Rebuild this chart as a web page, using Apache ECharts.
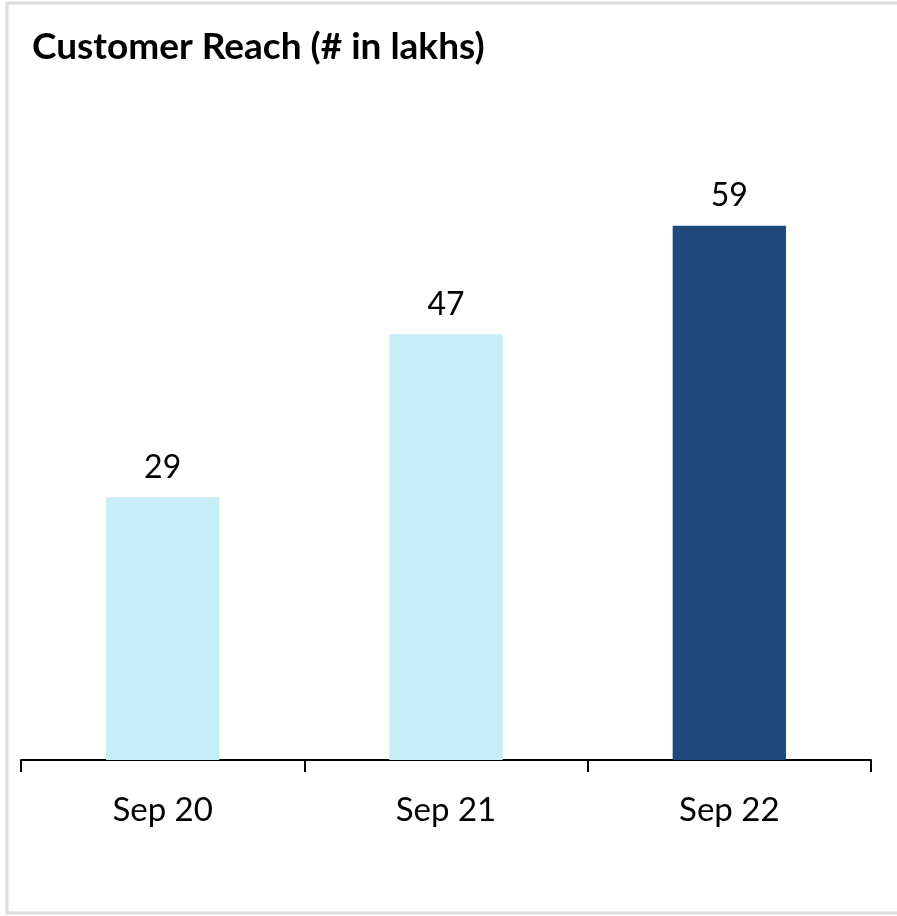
<!DOCTYPE html>
<html>
<head>
<meta charset="utf-8">
<style>
  html, body { margin: 0; padding: 0; background: #fff; }
  #chart { width: 897px; height: 916px; }
</style>
<script src="https://cdn.jsdelivr.net/npm/echarts@6/dist/echarts.min.js"></script>
</head>
<body>
<div id="chart"></div>
<script>
// data
const categories = ['Sep 20', 'Sep 21', 'Sep 22']
const reach = [29, 47, 59]
const barColors = ['#c7eef6', '#c7eef6', '#1f4a7c']

const chart = echarts.init(document.getElementById('chart'))

chart.setOption({
  animation: false,
  title: {
    text: 'Customer Reach (# in lakhs)',
    left: 32,
    top: 29,
    padding: 0,
    textStyle: {
      fontFamily: 'Lato',
      fontSize: 37,
      fontWeight: 'bold',
      color: '#000'
    }
  },
  graphic: [{
    type: 'rect',
    shape: { x: 7, y: 3, width: 900, height: 910 },
    style: { fill: 'none', stroke: '#dcdcdc', lineWidth: 3 },
    silent: true
  }],
  grid: {
    left: 21,
    right: 26,
    top: 126,
    bottom: 156
  },
  xAxis: {
    type: 'category',
    data: categories,
    axisLine: { lineStyle: { color: '#000', width: 2 } },
    axisTick: { show: true, length: 12, lineStyle: { color: '#000', width: 2 } },
    axisLabel: {
      margin: 34,
      color: '#000',
      fontFamily: 'Lato',
      fontSize: 33
    }
  },
  yAxis: {
    type: 'value',
    min: 0,
    max: 70,
    show: false,
    splitLine: { show: false }
  },
  series: [{
    type: 'bar',
    barWidth: '40%',
    data: reach.map((v, i) => ({ value: v, itemStyle: { color: barColors[i] } })),
    label: {
      show: true,
      position: 'top',
      distance: 14,
      color: '#000',
      fontFamily: 'Lato',
      fontSize: 32
    }
  }]
})
</script>
</body>
</html>
